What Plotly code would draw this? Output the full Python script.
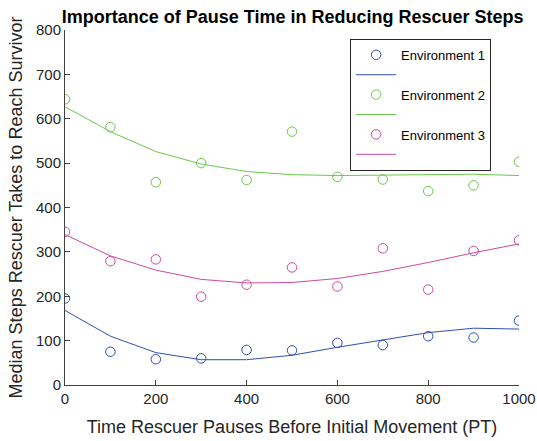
import plotly.graph_objects as go

pause_time = [0, 100, 200, 300, 400, 500, 600, 700, 800, 900, 1000]

env1_steps = [195, 75, 58, 60, 79, 78, 95, 90, 110, 107, 145]
env1_fit = [168, 110, 73, 57, 57, 67, 85, 102, 118, 128, 126]

env2_steps = [644, 581, 457, 500, 462, 571, 469, 463, 437, 450, 503]
env2_fit = [627, 571, 526, 498, 481, 474, 472, 473, 475, 475, 472]

env3_steps = [345, 279, 283, 199, 226, 265, 222, 308, 215, 302, 326]
env3_fit = [339, 291, 259, 238, 230, 231, 240, 256, 276, 298, 318]

names = ["Environment 1", "Environment 2", "Environment 3"]
colors = ["#2f4fb0", "#6cc84a", "#cc4aa3"]
scatter_sets = [env1_steps, env2_steps, env3_steps]
fit_sets = [env1_fit, env2_fit, env3_fit]

font_family = "Liberation Sans, Arial, sans-serif"

fig = go.Figure()
for name, color, pts, fit in zip(names, colors, scatter_sets, fit_sets):
    fig.add_trace(go.Scatter(
        x=pause_time, y=pts, mode="markers", name=name,
        marker=dict(symbol="circle-open", size=9.5, color=color, line=dict(width=1)),
    ))
    fig.add_trace(go.Scatter(
        x=pause_time, y=fit, mode="lines", name=" ",
        line=dict(color=color, width=1),
    ))

axis_common = dict(
    showgrid=False, zeroline=False, showline=True, linecolor="#404040", linewidth=1,
    ticks="inside", ticklen=5, tickcolor="#404040",
    tickfont=dict(family=font_family, size=15, color="#262626"),
    mirror=False, automargin=False,
)

fig.update_layout(
    width=537, height=441,
    margin=dict(l=65, r=18, t=30, b=56),
    paper_bgcolor="white", plot_bgcolor="white",
    font=dict(family=font_family, color="#262626"),
    title=dict(
        text="<b>Importance of Pause Time in Reducing Rescuer Steps</b>",
        x=0.545, xanchor="center", y=0.963, yanchor="middle",
        font=dict(family=font_family, size=18, color="black"),
    ),
    xaxis=dict(
        range=[0, 1000], tickvals=[0, 200, 400, 600, 800, 1000],
        title=dict(text="Time Rescuer Pauses Before Initial Movement (PT)",
                   font=dict(family=font_family, size=18, color="#262626"), standoff=14),
        **axis_common,
    ),
    yaxis=dict(
        range=[0, 800], tickvals=[0, 100, 200, 300, 400, 500, 600, 700, 800],
        title=dict(text="Median Steps Rescuer Takes to Reach Survivor",
                   font=dict(family=font_family, size=18, color="#262626"), standoff=8),
        **axis_common,
    ),
    legend=dict(
        x=0.628, y=0.975, xanchor="left", yanchor="top",
        bgcolor="white", bordercolor="#262626", borderwidth=1,
        font=dict(family=font_family, size=13, color="black"),
        itemwidth=40,
    ),
    showlegend=True,
)

fig.write_html("out.html")
